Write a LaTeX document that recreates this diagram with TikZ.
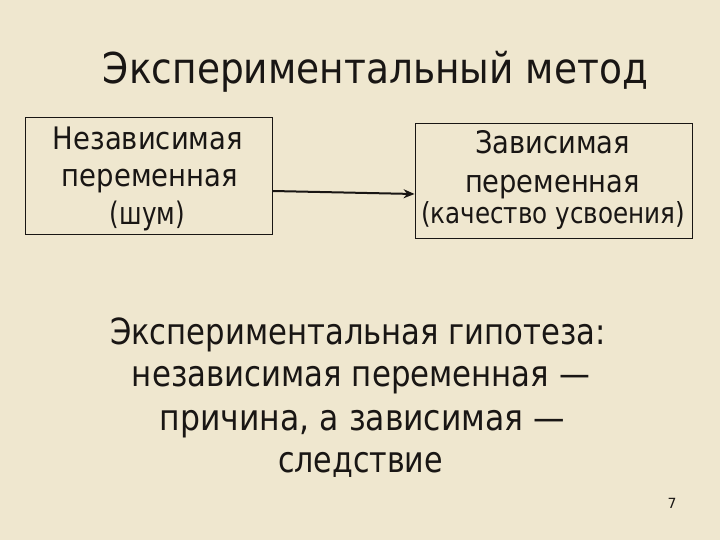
\documentclass[tikz,border=0pt]{standalone}
\usepackage{fontspec}
\setmainfont{DejaVu Sans}
\usepackage{graphicx}
\usetikzlibrary{arrows.meta}
\definecolor{bg}{RGB}{239,231,207}
\definecolor{ink}{RGB}{25,22,20}
\newcommand\fitw[2]{\resizebox{#1pt}{\height}{#2}}
\begin{document}
\begin{tikzpicture}[x=1pt,y=-1pt,
  txt/.style={inner sep=0pt, anchor=base, text=ink},
  boxstyle/.style={draw=ink, line width=0.9pt, inner sep=0pt},
  ttl/.style={txt, font=\fontsize{42.5}{50}\selectfont},
  big/.style={txt, font=\fontsize{36}{42}\selectfont},
  mid/.style={txt, font=\fontsize{31}{37}\selectfont},
  sml/.style={txt, font=\fontsize{29}{34}\selectfont},
  arr/.style={draw=ink, line width=2pt, -{Stealth[length=11pt,width=9pt]}}]
\fill[bg] (0,0) rectangle (720,540);
\useasboundingbox (0,0) rectangle (720,540);
\node[ttl] (title) at (375.5,84) {\fitw{545}{Экспериментальный метод}};
\node[boxstyle, minimum width=247pt, minimum height=117pt] (lbox) at (148.5,175.5) {};
\node[boxstyle, minimum width=277pt, minimum height=115pt] (rbox) at (553.5,180.5) {};
\node[mid] (l1) at (148,150) {\fitw{190}{Независимая}};
\node[mid] (l2) at (150,187) {\fitw{176}{переменная}};
\node[mid] (l3) at (147.5,225) {\fitw{75}{(шум)}};
\node[mid] (r1) at (552.5,154) {\fitw{155}{Зависимая}};
\node[mid] (r2) at (552.5,193) {\fitw{175}{переменная}};
\node[sml] (r3) at (553,224) {\fitw{264}{(качество усвоения)}};
\draw[arr] ([yshift=-15.5pt]lbox.east) -- ([yshift=-13.5pt]rbox.west);
\node[big] (b1) at (358,344) {\fitw{496}{Экспериментальная гипотеза:}};
\node[big] (b2) at (361,386) {\fitw{458}{независимая переменная —}};
\node[big] (b3) at (362.5,430) {\fitw{405}{причина, а зависимая —}};
\node[big] (b4) at (360.5,472) {\fitw{165}{следствие}};
\node[txt, font=\fontsize{14}{16}\selectfont] (pg) at (672,508) {7};
\end{tikzpicture}
\end{document}
